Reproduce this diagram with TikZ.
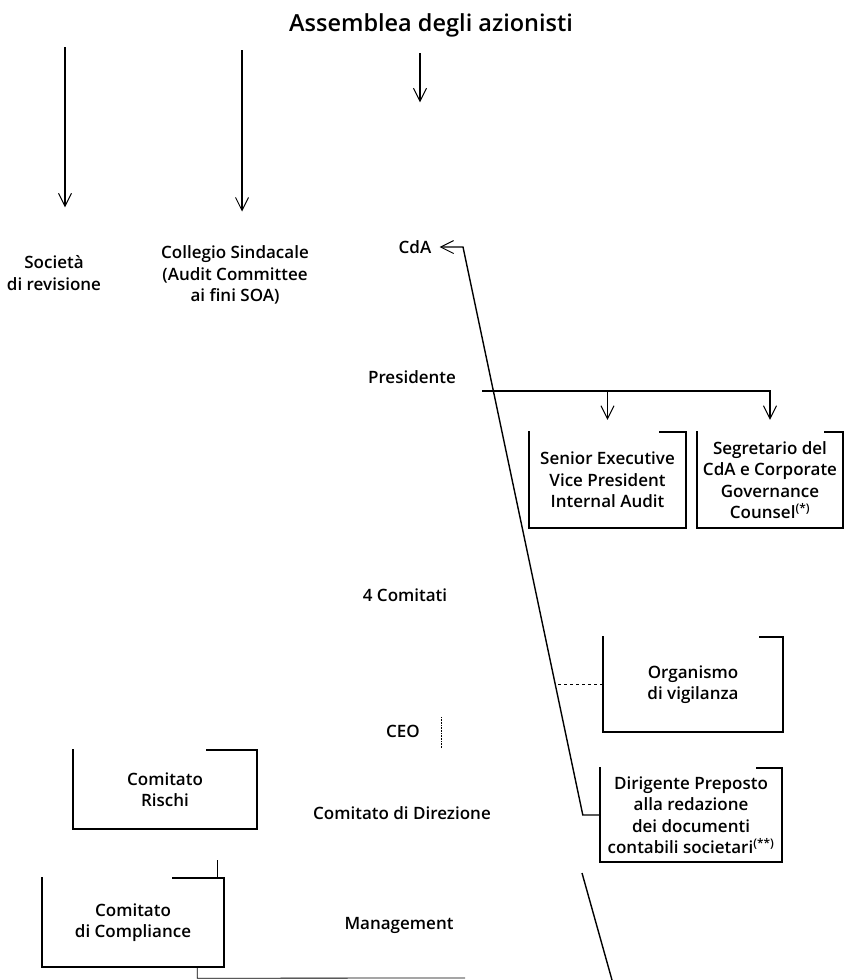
\documentclass[tikz,border=0pt]{standalone}
\usepackage{fontspec}
\setmainfont{Open Sans}[UprightFont={* Semibold}]
\usetikzlibrary{arrows.meta}

\begin{document}
\begin{tikzpicture}[
  x=1pt, y=-1pt,
  font=\fontsize{17}{21.5}\selectfont,
  label/.style={align=center, inner sep=2pt},
  unit/.style={align=center, inner sep=0pt},
  conn/.style={line width=1.4pt},
  arr/.style={-{Straight Barb[length=13pt, width=13pt, line width=1pt]}},
  frame/.style={line width=1.5pt, line cap=rect}
]

\useasboundingbox (0,0) rectangle (845,980);

% ============================================================
% TOP: shareholders and the three bodies they appoint
% ============================================================
\node[label, font=\fontsize{23.5}{28}\selectfont] (assemblea)
  at (431, 25) {Assemblea degli azionisti};

\node[label] (soc)  at (54, 273)  {Società\\di revisione};
\node[label] (coll) at (235, 275) {Collegio Sindacale\\(Audit Committee\\ai fini SOA)};
\node[label] (cda)  at (415, 247) {CdA};

\coordinate (t1) at (65, 47);
\coordinate (t2) at (242, 50);
\coordinate (t3) at (420, 53);
\draw[conn, arr, shorten >=46pt]  (t1) -- (t1 |- soc.north);
\draw[conn, arr, shorten >=32pt]  (t2) -- (t2 |- coll.north);
\draw[conn, arr, shorten >=136pt] (t3) -- (t3 |- cda.north);

% ============================================================
% MIDDLE column: chain of command
% ============================================================
\node[label] (pres) at (412, 377) {Presidente};
\node[label] (comi) at (405, 595) {4 Comitati};
\node[label] (ceo)  at (403, 731) {CEO};
\node[label] (cdir) at (402, 813) {Comitato di Direzione};
\node[label] (mgmt) at (399, 925) {Management};

% faint right side of the CEO frame
\draw[densely dotted, line width=0.6pt]
  ([xshift=19, yshift=14]ceo.east) -- ([xshift=19, yshift=-17]ceo.east);

% ============================================================
% RIGHT: staff functions
% ============================================================
\node[unit, minimum width=157, minimum height=96] (sea) at (607.5, 480)
  {Senior Executive\\Vice President\\Internal Audit};
\node[unit, minimum width=146, minimum height=96] (seg) at (770, 480)
  {Segretario del\\CdA e Corporate\\Governance\\Counsel\textsuperscript{(*)}};
\node[unit, minimum width=180, minimum height=95] (odv) at (693, 684.5)
  {Organismo\\di vigilanza};
\node[unit, minimum width=182, minimum height=94] (dir) at (691, 815)
  {Dirigente Preposto\\alla redazione\\dei documenti\\contabili societari\textsuperscript{(**)}};

% ============================================================
% LEFT: management committees
% ============================================================
\node[unit, minimum width=184, minimum height=79] (rischi) at (165, 789.5)
  {Comitato\\Rischi};
\node[unit, minimum width=182, minimum height=89] (compl) at (133, 922.5)
  {Comitato\\di Compliance};

% box frames: open at top left, short stub at top right
\foreach \b/\t in {sea/26, seg/18, odv/23, dir/25, rischi/50, compl/51} {
  \draw[frame] ([xshift=-\t]\b.north east) -- (\b.north east)
    -- (\b.south east) -- (\b.south west) -- (\b.north west);
}

% ============================================================
% Connectors
% ============================================================
% Presidente branch
\coordinate (pr-k) at (482, 391);
\draw[conn, arr] (pr-k) -| ([yshift=12]seg.north);
\draw[conn, arr] (pr-k -| sea.north) -- ([yshift=12]sea.north);

% Dirigente Preposto reports to the CdA
\coordinate (cda-k) at (463, 247);
\draw[conn, arr, shorten >=6pt]
  (dir.west) -- ++(-17, 0) -- (cda-k) -- (cda.east);

% Organismo di vigilanza
\draw[conn, dashed] (odv.west) -- ++(-48, 0);

% lower trunk
\coordinate (low-a) at (582, 873);
\coordinate (low-b) at (612, 980);
\draw[conn] (low-a) -- (low-b);

% Comitato di Compliance stubs
\coordinate (mg-k) at (465, 978);
\draw[conn] ([xshift=-7]compl.north east) -- ++(0, -18);
\draw[conn, line width=0.8pt] ([xshift=-27]compl.south east) -- ++(0, 11) -- (mg-k);

\end{tikzpicture}
\end{document}
